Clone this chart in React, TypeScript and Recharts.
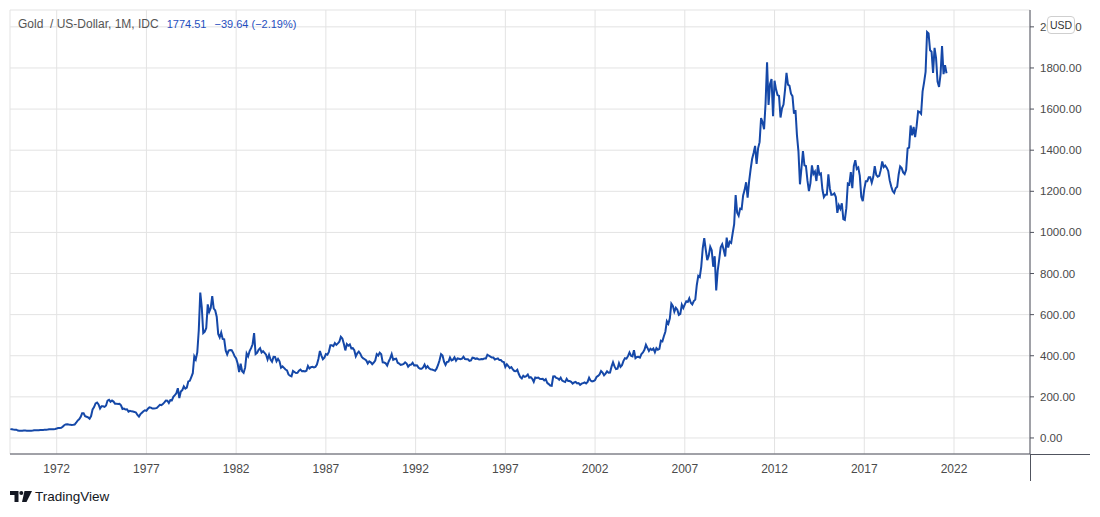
import { LineChart, Line, XAxis, YAxis, CartesianGrid } from "recharts";

// monthly closes, first value = June 1969
const startYear = 1969;
const startMonth = 6;

const gold1969 = [43, 42, 41, 40.5, 40, 36, 35.2];
const gold1970s = [
  34.9, 34.9, 35.9, 35.8, 35.5, 35.4, 35.3, 35.4, 36.2, 37.5, 37.4, 37.4,
  37.9, 38.7, 38.9, 39.0, 40.5, 40.1, 41.0, 42.7, 42.0, 42.5, 43.0, 43.6,
  45.8, 48.3, 48.3, 49.0, 54.6, 62.1, 65.7, 67.0, 65.2, 64.9, 62.9, 63.9,
  65.1, 74.2, 84.5, 90.5, 102, 120, 120, 106, 103, 100, 94, 106.7,
  139, 150, 168, 172, 163, 143, 154, 154, 151, 158, 182, 186,
  176, 182, 177, 167, 167, 165, 166, 159, 141, 143, 138.5, 139.3,
  128, 132, 129.6, 128.4, 126.8, 123.8, 112, 104, 116, 123, 130, 134.5,
  132.3, 142.8, 148.9, 147.7, 143, 143, 144, 146, 154, 161.5, 160, 164.9,
  173, 182, 181, 170, 184, 183, 200, 208, 217, 242, 194, 226,
  233, 251, 240, 245, 275, 278, 296, 315, 397, 382, 416, 524,
];
const gold1980s = [
  707, 637, 510, 517, 535, 650, 614, 632, 690, 630, 620, 590,
  506, 489, 513, 482, 480, 426, 406, 425, 428, 427, 414, 397,
  387, 362, 320, 361, 325, 317, 342, 411, 397, 423, 437, 456,
  510, 408, 414, 429, 437, 416, 422, 414, 405, 382, 405, 382,
  371, 395, 394, 373, 385, 373, 342, 348, 341, 333, 329, 309,
  303, 300, 326, 321, 316, 317, 327, 333, 325, 326, 324, 327,
  350, 338, 344, 346, 343, 346, 357, 384, 423, 401, 383, 391,
  408, 405, 419, 451, 451, 447, 462, 453, 460, 468, 492, 484,
  458, 426, 457, 449, 455, 436, 437, 427, 397, 412, 420, 410,
  394, 387, 383, 377, 362, 373, 368, 359, 367, 377, 408, 401,
];
const gold1990s = [
  415, 407, 368, 367, 363, 352, 372, 387, 408, 380, 384, 386,
  366, 362, 355, 357, 360, 368, 362, 347, 355, 357, 366, 353,
  354, 353, 341, 337, 337, 343, 357, 340, 349, 339, 334, 333,
  330, 327, 337, 355, 378, 408, 401, 371, 355, 370, 371, 391,
  377, 381, 392, 376, 387, 385, 383, 386, 395, 384, 383, 383,
  375, 377, 391, 389, 385, 387, 383, 382, 384, 383, 387, 387,
  405, 400, 396, 391, 391, 382, 385, 387, 379, 379, 371, 369,
  345, 358, 349, 340, 345, 334, 326, 325, 332, 311, 296, 290,
  303, 297, 301, 309, 293, 296, 288, 273, 294, 292, 294, 288,
  287, 288, 280, 286, 268, 262, 255, 254, 299, 300, 292, 290,
];
const gold2000s = [
  283, 293, 279, 275, 272, 288, 277, 277, 273, 264, 270, 273,
  265, 267, 258, 264, 267, 270, 265, 273, 293, 279, 275, 277,
  282, 297, 302, 309, 326, 318, 305, 313, 324, 317, 318, 347,
  368, 348, 335, 337, 364, 346, 354, 375, 388, 386, 398, 416,
  400, 397, 427, 388, 394, 395, 391, 408, 416, 429, 453, 438,
  423, 434, 428, 435, 417, 437, 429, 433, 473, 470, 495, 517,
  568, 556, 582, 654, 643, 614, 633, 624, 599, 604, 648, 632,
  650, 665, 662, 679, 658, 650, 666, 673, 743, 789, 783, 834,
  923, 972, 916, 865, 887, 930, 913, 833, 884, 718, 814, 869,
  928, 942, 916, 883, 975, 926, 955, 949, 996, 1040, 1182, 1096,
];
const gold2010s = [
  1081, 1116, 1113, 1180, 1207, 1244, 1169, 1248, 1307, 1357, 1386, 1421,
  1333, 1409, 1439, 1556, 1536, 1502, 1628, 1828, 1620, 1722, 1746, 1565,
  1738, 1696, 1668, 1664, 1559, 1604, 1622, 1692, 1776, 1719, 1713, 1675,
  1663, 1578, 1595, 1472, 1393, 1234, 1312, 1396, 1326, 1323, 1253, 1201,
  1240, 1326, 1284, 1296, 1250, 1327, 1282, 1287, 1210, 1172, 1183, 1184,
  1283, 1213, 1183, 1184, 1190, 1172, 1095, 1132, 1115, 1142, 1065, 1061,
  1118, 1238, 1233, 1293, 1215, 1322, 1351, 1309, 1316, 1276, 1173, 1152,
  1211, 1249, 1249, 1268, 1268, 1242, 1269, 1322, 1280, 1271, 1275, 1303,
  1345, 1318, 1325, 1315, 1299, 1253, 1224, 1201, 1192, 1215, 1222, 1282,
  1321, 1313, 1292, 1284, 1305, 1409, 1413, 1520, 1472, 1513, 1464, 1517,
];
const gold2020s = [
  1589, 1585, 1577, 1686, 1730, 1781, 1975, 1968, 1886, 1879, 1776, 1898,
  1848, 1734, 1708, 1769, 1906, 1770, 1814.15, 1774.51,
];

const yearTicks = [1972, 1977, 1982, 1987, 1992, 1997, 2002, 2007, 2012, 2017, 2022];
const priceTicks = [0, 200, 400, 600, 800, 1000, 1200, 1400, 1600, 1800, 2000];

const closes = [...gold1969, ...gold1970s, ...gold1980s, ...gold1990s, ...gold2000s, ...gold2010s, ...gold2020s];
const data = closes.map((close, i) => ({ t: startYear + (startMonth - 1 + i) / 12, close }));

const axisColor = "#50535e";
const textColor = "#4a4a4a";
const font = "'Liberation Sans', Arial, sans-serif";

function Logo() {
  return (
    <svg width="22" height="11" viewBox="0 0 22 11">
      <path d="M0 0 H8.5 V11 H4.5 V4 H0 Z" fill="#131722" />
      <circle cx="11.3" cy="2" r="2" fill="#131722" />
      <path d="M14.5 0 H22 L16.5 11 H12 Z" fill="#131722" />
    </svg>
  );
}

export default function App() {
  return (
    <div style={{ position: "relative", width: 1100, height: 517, background: "#fff", fontFamily: font }}>
      <style>{"body{margin:0}"}</style>
      <LineChart width={1100} height={517} data={data} margin={{ top: 10, right: 0, bottom: 33, left: 10 }}>
        <CartesianGrid stroke="#e3e3e3" />
        <XAxis
          dataKey="t"
          type="number"
          domain={[1969.398, 2026.235]}
          allowDataOverflow
          ticks={yearTicks}
          height={30}
          tickLine={false}
          tickSize={0}
          tickMargin={10}
          axisLine={{ stroke: axisColor }}
          tick={{ fill: textColor, fontSize: 12, fontFamily: font }}
        />
        <YAxis
          orientation="right"
          width={70}
          domain={[-78, 2082]}
          allowDataOverflow
          ticks={priceTicks}
          tickFormatter={(v: number) => v.toFixed(2)}
          tickSize={4}
          tickMargin={6}
          tickLine={{ stroke: axisColor }}
          axisLine={{ stroke: axisColor }}
          tick={{ fill: textColor, fontSize: 11.5, fontFamily: font }}
        />
        <Line
          type="linear"
          dataKey="close"
          stroke="#1548a8"
          strokeWidth={2}
          dot={false}
          isAnimationActive={false}
        />
      </LineChart>

      <div style={{ position: "absolute", left: 1030, top: 454, width: 60, height: 1, background: axisColor }} />
      <div style={{ position: "absolute", left: 1030, top: 454, width: 1, height: 27, background: axisColor }} />

      <div style={{ position: "absolute", left: 18, top: 17, fontSize: 12, color: "#555", whiteSpace: "pre" }}>
        <span>Gold  / US-Dollar, 1M, IDC</span>
        <span style={{ color: "#1f4fc0", marginLeft: 8, fontSize: 11 }}>1774.51</span>
        <span style={{ color: "#1f4fc0", marginLeft: 8, fontSize: 11 }}>−39.64 (−2.19%)</span>
      </div>

      <div
        style={{
          position: "absolute",
          left: 1047,
          top: 16,
          width: 26,
          height: 16,
          border: "1px solid #cfcfcf",
          borderRadius: 4,
          background: "#fff",
          fontSize: 10.5,
          lineHeight: "16px",
          textAlign: "center",
          color: "#333",
        }}
      >
        USD
      </div>

      <div style={{ position: "absolute", left: 10, top: 489, display: "flex", alignItems: "center", gap: 3 }}>
        <Logo />
        <span style={{ fontSize: 13.5, color: "#131722" }}>TradingView</span>
      </div>
    </div>
  );
}
